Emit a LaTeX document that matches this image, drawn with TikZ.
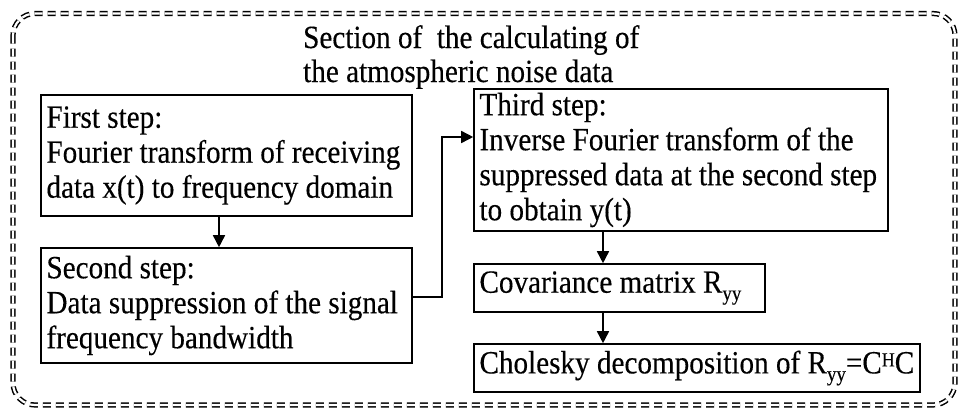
\documentclass[tikz,border=0pt]{standalone}
\usepackage{fontspec}
\setmainfont{Liberation Serif}[FakeStretch=0.9, FakeBold=0.3]
\usetikzlibrary{arrows.meta}
\newcommand{\subyy}{\raisebox{-7.5pt}{\fontsize{21}{21}\selectfont yy}}
\newcommand{\supH}{\raisebox{7pt}{\fontsize{20}{20}\selectfont H}}
\tikzset{
  stepbox/.style={draw, line width=1.6pt, rectangle, inner xsep=5.5pt, inner ysep=0pt, align=flush left,
    font=\fontsize{32.4}{35}\selectfont},
  arr/.style={line width=1.6pt, -{Triangle[length=12pt,width=12pt]}},
  frame/.style={line width=1.5pt, double, double distance=2.2pt, dash pattern=on 8pt off 5pt, rounded corners=22pt},
}
\begin{document}
\begin{tikzpicture}[x=1pt,y=-1pt]
\useasboundingbox (0,0) rectangle (961,410);
\draw[frame] (13,13.5) rectangle (955,405);
\node[font=\fontsize{32.4}{34}\selectfont, text width=420pt, align=flush left, inner sep=0pt, anchor=base west] (title) at (303,48)
  {Section of \ the calculating of\\the atmospheric noise data};
\node[stepbox, minimum width=371pt, minimum height=121pt, text width=360pt] (b1) at (226.5,155.5)
  {First step:\\Fourier transform of receiving\\data x(t) to frequency domain};
\node[stepbox, minimum width=371pt, minimum height=115pt, text width=360pt] (b2) at (226.5,305.5)
  {Second step:\\Data suppression of the signal\\frequency bandwidth};
\node[stepbox, minimum width=414pt, minimum height=142pt, text width=403pt] (b3) at (681,160)
  {Third step:\\Inverse Fourier transform of the\\suppressed data at the second step\\to obtain y(t)};
\node[stepbox, minimum width=291pt, minimum height=48pt, text width=280pt] (b4) at (619.5,288)
  {Covariance matrix R\subyy};
\node[stepbox, minimum width=446pt, minimum height=48pt, text width=435pt] (b5) at (697,368)
  {Cholesky decomposition of R\subyy=C\supH C};
\coordinate (xa) at (219,0);
\coordinate (xb) at (603,0);
\coordinate (k) at (442,137);
\draw[arr] (b1.south -| xa) -- (b2.north -| xa);
\draw[arr] ([yshift=8.5pt]b2.east) -| (k) -- (k -| b3.west);
\draw[arr] (b3.south -| xb) -- (b4.north -| xb);
\draw[arr] (b4.south -| xb) -- (b5.north -| xb);
\end{tikzpicture}
\end{document}
